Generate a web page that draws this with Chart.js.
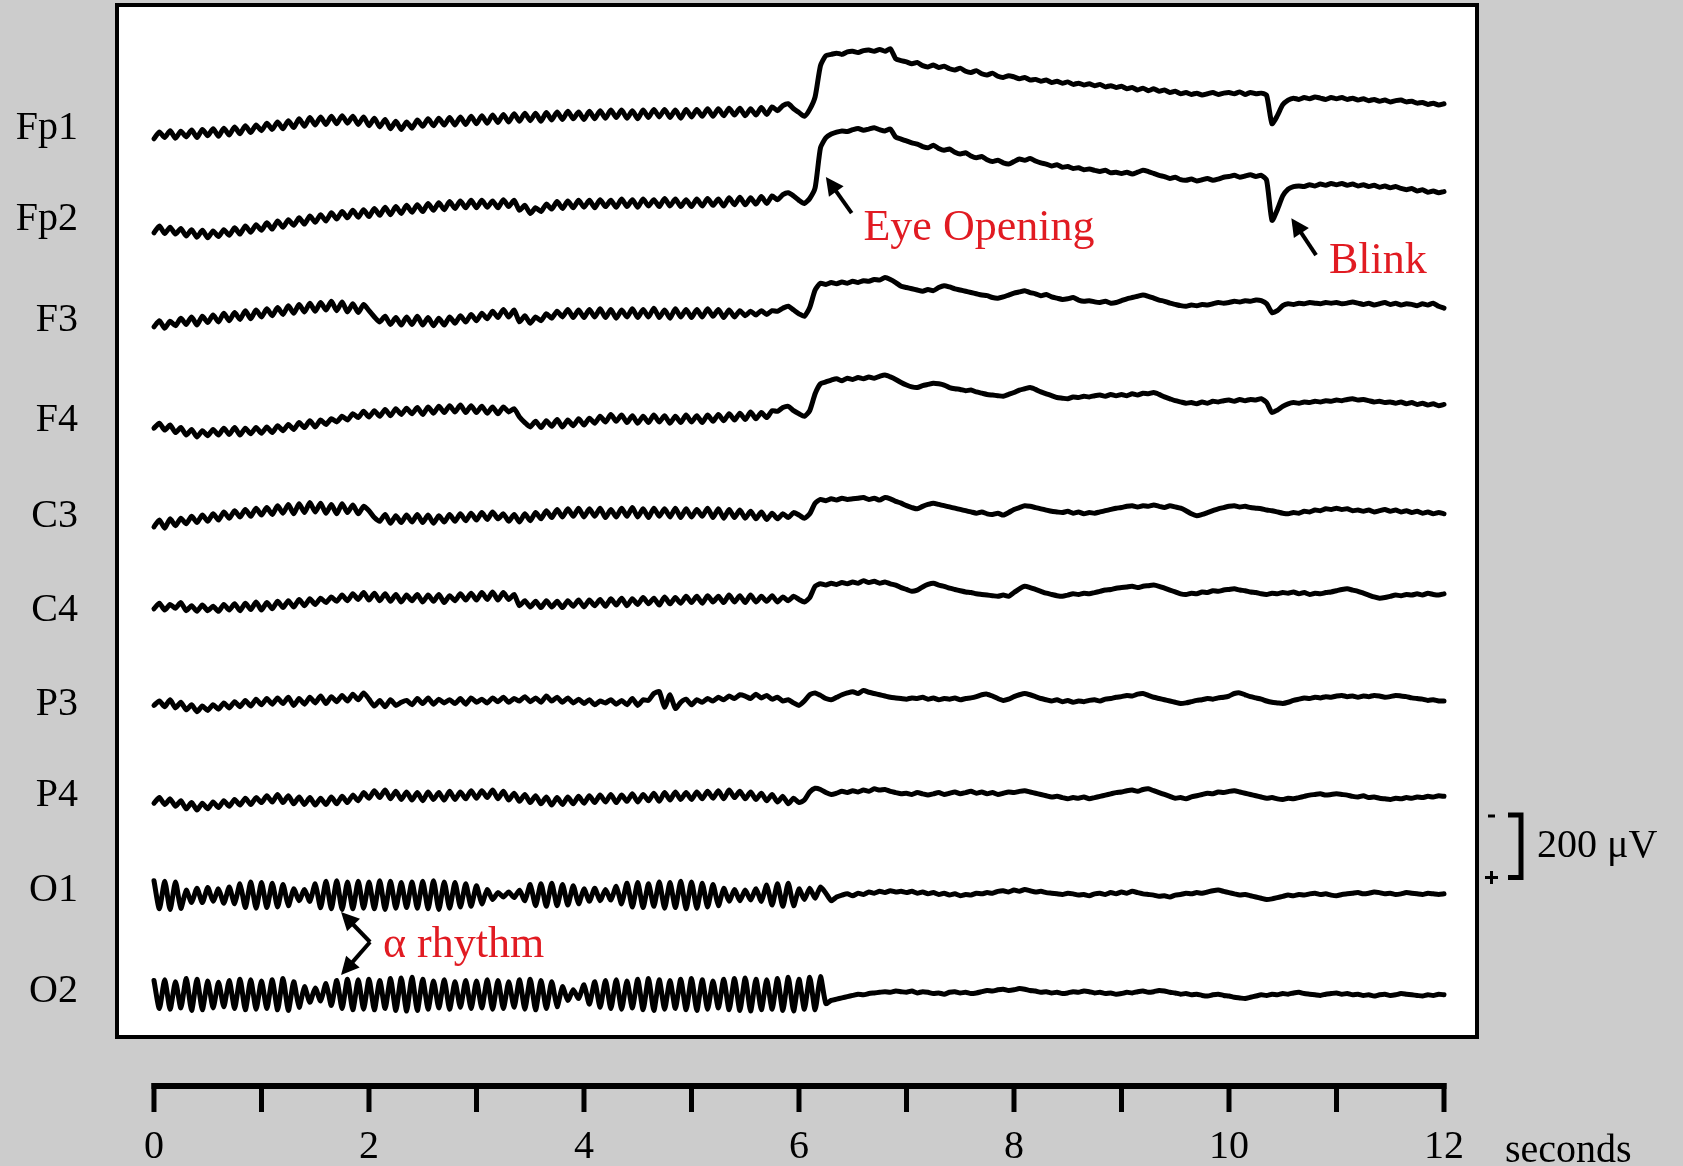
<!DOCTYPE html>
<html>
<head>
<meta charset="utf-8">
<title>EEG - eye opening</title>
<script src="https://cdn.jsdelivr.net/npm/chart.js@4.4.1/dist/chart.umd.min.js"></script>
<style>
  html, body { margin: 0; padding: 0; background: #cccccc; }
  #wrap { width: 1683px; height: 1166px; }
</style>
</head>
<body>
<div id="wrap"><canvas id="eegChart" width="1683" height="1166"></canvas></div>
<script>
// channel names and their baseline position on the (reversed) µV axis
const channels = ['Fp1', 'Fp2', 'F3', 'F4', 'C3', 'C4', 'P3', 'P4', 'O1', 'O2'];
const channelOffsets = [394, 685, 1008, 1328, 1638, 1936, 2237, 2528, 2832, 3155];
const sampleRate = 20;
const timeTicks = [0, 1, 2, 3, 4, 5, 6, 7, 8, 9, 10, 11, 12];
const scaleBarMicrovolts = 200;

// traces in µV relative to channel baseline (positive = down), one line per second
const fp1 = [
  34, 12, 30, 8, 32, 10, 28, 6, 30, 4, 24, 2, 26, 0, 22, -4, 18, -8, 14, -10,
  8, -16, 4, -20, 2, -24, -2, -30, -6, -34, -10, -36, -12, -38, -14, -40, -16, -38, -12, -36,
  -8, -32, -4, -28, 2, -22, 4, -20, 0, -26, -6, -30, -8, -32, -10, -34, -10, -36, -12, -38,
  -14, -40, -16, -42, -18, -44, -20, -46, -22, -48, -24, -48, -22, -50, -26, -52, -28, -54, -30, -52,
  -28, -54, -30, -56, -32, -58, -34, -58, -32, -56, -30, -58, -34, -60, -36, -60, -34, -58, -32, -60,
  -36, -60, -38, -62, -38, -62, -40, -64, -42, -64, -40, -62, -42, -66, -44, -68, -56, -72, -78, -62,
  -50, -38, -60, -100, -200, -232, -236, -240, -236, -244, -246, -242, -248, -250, -246, -252, -246, -254, -222, -216,
  -212, -206, -210, -200, -196, -202, -194, -198, -190, -186, -192, -182, -178, -184, -174, -170, -176, -166, -162, -168,
  -164, -158, -162, -154, -156, -150, -154, -146, -150, -144, -148, -140, -144, -138, -142, -136, -140, -132, -136, -130,
  -134, -126, -130, -122, -128, -120, -126, -118, -122, -114, -118, -110, -114, -108, -112, -106, -110, -114, -108, -112,
  -114, -110, -116, -108, -114, -110, -112, -105, -14, -40, -75, -90, -96, -92, -98, -94, -100, -96, -92, -98,
  -94, -98, -92, -96, -90, -94, -88, -92, -86, -90, -84, -88, -90, -84, -86, -80, -82, -76, -80, -74, -78
];
const fp2 = [
  44, 22, 46, 26, 48, 30, 54, 34, 58, 36, 60, 38, 56, 34, 52, 28, 48, 22, 42, 18,
  36, 12, 32, 6, 26, 2, 20, -4, 16, -10, 10, -14, 6, -20, 0, -24, -4, -28, -6, -30,
  -8, -34, -12, -38, -14, -40, -18, -44, -22, -46, -24, -50, -28, -52, -30, -56, -34, -58, -36, -60,
  -36, -60, -38, -58, -36, -62, -40, -60, -28, -44, -18, -36, -24, -48, -32, -56, -34, -58, -36, -60,
  -38, -60, -36, -62, -40, -60, -38, -64, -40, -62, -38, -64, -42, -62, -40, -66, -42, -64, -40, -62,
  -40, -64, -42, -66, -44, -64, -42, -68, -46, -70, -46, -68, -48, -72, -50, -74, -62, -78, -84, -74,
  -60, -50, -66, -100, -228, -260, -272, -278, -282, -280, -286, -290, -284, -288, -292, -286, -282, -288, -262, -256,
  -250, -244, -240, -232, -228, -236, -226, -220, -224, -214, -208, -212, -202, -196, -200, -190, -184, -188, -180, -176,
  -184, -192, -188, -194, -186, -180, -176, -170, -174, -166, -168, -162, -164, -158, -160, -156, -152, -156, -148, -150,
  -146, -150, -144, -150, -156, -152, -146, -140, -136, -130, -134, -126, -124, -128, -122, -126, -130, -124, -128, -134,
  -136, -140, -134, -138, -142, -136, -140, -124, 4, -30, -74, -96, -104, -106, -104, -110, -106, -112, -108, -114,
  -110, -114, -108, -112, -106, -110, -104, -108, -102, -106, -100, -104, -98, -94, -98, -90, -94, -86, -90, -84, -88
];
const f3 = [
  22, 2, 26, 4, 18, -6, 14, -10, 16, -12, 8, -16, 6, -22, 2, -24, -2, -30, -4, -32,
  -10, -36, -14, -40, -18, -46, -22, -50, -26, -54, -28, -56, -32, -60, -30, -58, -26, -52, -24, -50,
  -30, -10, 6, -12, 14, -8, 16, -10, 14, -12, 16, -8, 18, -6, 16, -10, 10, -14, 6, -18,
  2, -22, -4, -28, -8, -34, -10, -32, 6, -14, 10, -10, 2, -20, -6, -28, -10, -34, -8, -32,
  -8, -34, -10, -36, -8, -34, -6, -32, -10, -36, -8, -34, -10, -38, -8, -32, -6, -36, -10, -34,
  -8, -34, -10, -36, -12, -34, -8, -32, -10, -30, -14, -28, -16, -30, -18, -30, -28, -38, -44, -32,
  -20, -12, -40, -96, -118, -114, -120, -116, -122, -118, -124, -120, -126, -124, -130, -128, -136, -130, -120, -108,
  -104, -100, -96, -92, -98, -94, -104, -110, -106, -100, -96, -92, -88, -84, -80, -78, -72, -70, -74, -80,
  -86, -90, -94, -88, -84, -78, -82, -74, -70, -66, -68, -72, -64, -60, -62, -58, -56, -60, -54, -56,
  -62, -68, -72, -76, -80, -76, -70, -64, -60, -54, -50, -46, -44, -48, -46, -50, -48, -52, -56, -54,
  -56, -60, -58, -62, -60, -64, -62, -52, -24, -30, -46, -52, -50, -54, -52, -56, -54, -52, -56, -54,
  -56, -52, -54, -58, -54, -50, -54, -48, -52, -56, -50, -54, -48, -52, -50, -46, -52, -48, -54, -44, -38
];
const f4 = [
  26, 10, 32, 16, 40, 24, 48, 30, 54, 34, 50, 30, 48, 26, 46, 24, 48, 26, 44, 24,
  42, 22, 40, 18, 34, 14, 30, 8, 24, 2, 22, 0, 14, -4, 6, -12, 0, -20, -8, -28,
  -10, -30, -12, -34, -14, -36, -18, -38, -20, -40, -18, -42, -22, -44, -24, -46, -26, -48, -24, -46,
  -24, -44, -22, -42, -20, -42, -26, -36, -10, 8, 22, 4, 24, 2, 20, -2, 22, 0, 18, -4,
  16, -6, 10, -12, 6, -18, 4, -16, 8, -14, 10, -12, 8, -16, 6, -14, 10, -12, 8, -16,
  6, -14, 8, -16, 4, -18, 2, -20, 0, -22, -2, -26, -4, -24, -8, -30, -28, -40, -44, -30,
  -20, -12, -30, -84, -116, -122, -128, -132, -126, -134, -130, -136, -132, -138, -134, -140, -144, -138, -130, -120,
  -112, -106, -104, -110, -114, -118, -116, -112, -104, -100, -98, -94, -96, -90, -86, -82, -80, -78, -76, -82,
  -88, -96, -100, -104, -98, -90, -84, -78, -72, -70, -68, -74, -72, -76, -74, -78, -80, -76, -82, -78,
  -82, -78, -84, -80, -86, -84, -88, -82, -74, -68, -62, -58, -54, -56, -52, -58, -54, -60, -58, -62,
  -64, -60, -66, -62, -66, -64, -68, -56, -24, -32, -44, -52, -56, -54, -58, -56, -60, -58, -62, -60,
  -64, -62, -66, -68, -64, -66, -62, -58, -60, -56, -58, -54, -58, -52, -56, -50, -54, -48, -52, -46, -50
];
const c3 = [
  32, 10, 36, 6, 28, 4, 22, -2, 18, -6, 14, -10, 10, -16, 4, -20, 0, -24, -2, -28,
  -6, -30, -8, -36, -12, -40, -10, -42, -14, -46, -16, -44, -12, -40, -10, -42, -14, -38, -10, -34,
  -20, 2, 14, -8, 20, -4, 18, -6, 16, -8, 18, -6, 20, -4, 16, -8, 14, -10, 12, -12,
  10, -14, 8, -16, 6, -10, 14, -8, 16, -10, 12, -14, 6, -20, 2, -24, 0, -26, -2, -28,
  0, -26, -2, -28, 2, -24, 0, -28, -2, -30, 0, -26, 2, -28, -2, -26, 0, -28, 2, -26,
  0, -24, -2, -28, 2, -26, 4, -24, 2, -22, 4, -18, 6, -16, 8, -12, 6, -10, 2, -14,
  -6, 4, -10, -44, -56, -52, -58, -54, -60, -56, -58, -60, -62, -56, -60, -54, -62, -58, -50, -44,
  -36, -30, -26, -34, -40, -44, -40, -36, -32, -28, -24, -20, -16, -12, -16, -10, -8, -12, -6, -14,
  -24, -30, -36, -34, -30, -26, -22, -18, -16, -14, -18, -12, -16, -10, -14, -12, -16, -20, -24, -28,
  -30, -34, -36, -32, -36, -34, -38, -34, -30, -36, -32, -28, -20, -10, -4, -8, -14, -20, -26, -30,
  -34, -36, -32, -34, -30, -28, -26, -22, -20, -16, -12, -10, -14, -12, -18, -16, -22, -20, -26, -24,
  -28, -24, -26, -20, -22, -18, -22, -16, -20, -24, -18, -22, -16, -20, -14, -18, -12, -16, -10, -14, -10
];
const c4 = [
  -4, -22, 0, -18, -6, -24, 2, -14, 4, -16, 2, -12, 4, -18, 0, -20, 2, -22, -2, -26,
  0, -24, -4, -28, -8, -30, -10, -34, -14, -36, -18, -38, -24, -42, -28, -48, -30, -52, -34, -56,
  -32, -54, -30, -52, -28, -50, -26, -48, -30, -50, -26, -48, -28, -50, -24, -46, -30, -52, -32, -54,
  -32, -56, -34, -58, -32, -56, -34, -50, -14, -30, -10, -28, -8, -30, -10, -28, -8, -30, -12, -32,
  -10, -32, -14, -34, -12, -36, -16, -38, -14, -36, -18, -40, -20, -38, -16, -42, -20, -40, -22, -44,
  -24, -44, -22, -46, -26, -44, -24, -48, -26, -46, -24, -48, -26, -44, -28, -46, -26, -42, -30, -44,
  -34, -26, -40, -76, -84, -80, -86, -82, -88, -84, -90, -86, -94, -88, -92, -86, -90, -84, -80, -72,
  -66, -60, -64, -74, -82, -86, -80, -76, -70, -66, -62, -58, -56, -52, -50, -48, -46, -44, -48, -44,
  -56, -68, -76, -72, -66, -60, -54, -50, -46, -44, -48, -52, -50, -54, -52, -56, -60, -64, -66, -70,
  -72, -74, -76, -72, -76, -78, -80, -76, -70, -64, -58, -52, -50, -54, -52, -58, -56, -62, -60, -64,
  -66, -68, -64, -62, -58, -56, -52, -50, -54, -52, -56, -54, -58, -52, -56, -50, -54, -52, -56, -58,
  -62, -66, -68, -64, -60, -54, -48, -42, -38, -40, -44, -48, -46, -50, -48, -52, -48, -54, -50, -48, -52
];
const p3 = [
  4, -10, 8, -14, 12, -6, 18, 2, 24, 6, 20, 2, 16, -4, 12, -8, 8, -12, 6, -16,
  2, -18, 0, -20, -2, -22, 4, -18, 0, -22, -4, -26, -2, -24, -8, -28, -10, -32, -14, -36,
  -16, 6, -12, 8, -14, 4, -6, -12, 2, -18, -2, -20, 0, -16, -4, -14, -2, -18, 0, -20,
  -6, -16, -4, -20, -8, -22, -6, -18, -10, -24, -8, -20, -6, -26, -10, -22, -6, -20, -4, -16,
  -2, -14, 2, -10, -4, -14, 0, -12, 2, -18, 4, -14, -12, -34, -40, 10, -30, 14, -6, -16,
  2, -14, -6, -18, -10, -22, -14, -26, -18, -30, -26, -18, -32, -20, -28, -16, -22, -10, -14, -4,
  4, -10, -30, -36, -28, -18, -14, -22, -30, -36, -40, -34, -44, -38, -34, -30, -26, -22, -20, -18,
  -16, -20, -18, -22, -16, -20, -14, -18, -16, -20, -14, -18, -20, -24, -30, -32, -26, -18, -12, -16,
  -24, -30, -34, -30, -24, -18, -14, -10, -14, -8, -12, -6, -10, -8, -12, -14, -10, -16, -18, -22,
  -24, -28, -26, -32, -34, -28, -22, -18, -14, -10, -6, -2, -4, -8, -12, -14, -18, -16, -20, -22,
  -26, -34, -36, -30, -24, -20, -16, -10, -6, -4, -2, -6, -12, -16, -20, -18, -22, -20, -24, -22,
  -26, -28, -24, -26, -22, -26, -24, -28, -26, -22, -24, -28, -26, -24, -20, -18, -16, -12, -14, -10, -10
];
const p4 = [
  26, 8, 30, 12, 36, 18, 44, 24, 48, 26, 44, 22, 40, 18, 36, 14, 32, 10, 30, 8,
  24, 2, 22, -2, 24, 2, 28, 6, 30, 8, 32, 10, 30, 6, 28, 4, 24, 0, 18, -8,
  10, -14, 8, -16, 12, -12, 14, -10, 16, -8, 18, -10, 14, -8, 16, -12, 14, -10, 12, -14,
  10, -14, 8, -16, 12, -12, 16, -6, 20, -2, 24, 2, 28, 6, 32, 8, 30, 6, 28, 4,
  26, 2, 24, 0, 22, -2, 24, 0, 20, -4, 22, -2, 18, -6, 20, -8, 16, -10, 14, -8,
  14, -10, 12, -12, 10, -14, 12, -16, 8, -12, 12, -10, 14, -6, 18, -2, 22, 4, 28, 10,
  24, 16, -10, -22, -18, -8, -2, -6, -12, -8, -14, -10, -16, -12, -20, -16, -18, -12, -8, -4,
  -6, -2, -8, -4, 0, -4, -8, -2, -6, -10, -4, -8, -12, -6, -10, -4, -8, -2, -6, -10,
  -8, -12, -14, -10, -6, -2, 2, 6, 4, 8, 12, 8, 10, 6, 12, 8, 4, 0, -4, -8,
  -10, -14, -16, -12, -18, -20, -14, -8, -2, 4, 10, 8, 12, 6, 2, -2, -6, -4, -10, -8,
  -12, -14, -10, -6, -2, 2, 6, 10, 8, 12, 14, 10, 12, 8, 4, 0, -2, -4, 0, -2,
  -4, -2, 0, 4, 6, 2, 8, 6, 10, 12, 14, 10, 12, 8, 10, 6, 8, 4, 6, 2, 4
];
const o1 = [
  -30, 60, -28, 62, -26, 58, 0, 40, -6, 40, -8, 36, -4, 42, -10, 44, -20, 56, -26, 58,
  -24, 56, -22, 54, -18, 50, -4, 34, -2, 36, -20, 56, -28, 60, -30, 62, -26, 60, -28, 58,
  -26, 60, -30, 62, -28, 58, -24, 56, -26, 58, -28, 60, -30, 62, -26, 58, -24, 54, -20, 52,
  -14, 44, -2, 30, 8, 22, 6, 24, 0, 34, -18, 50, -20, 52, -22, 50, -18, 48, -14, 44,
  -4, 36, -6, 34, -2, 32, -12, 44, -22, 54, -24, 56, -20, 52, -26, 58, -24, 56, -28, 60,
  -26, 58, -22, 54, -18, 50, -6, 36, -2, 34, 0, 32, -4, 36, -16, 48, -20, 52, -22, 50,
  -4, 30, -6, 26, -10, 10, 34, 22, 16, 12, 18, 10, 14, 6, 10, 4, 8, 2, 6, 4,
  8, 4, 10, 6, 12, 8, 14, 10, 16, 12, 18, 14, 16, 10, 12, 8, 10, 4, 2, 6,
  0, 4, -2, 2, 6, 4, 8, 10, 12, 14, 10, 12, 16, 14, 18, 12, 10, 14, 8, 12,
  6, 10, 4, 8, 12, 14, 16, 20, 18, 22, 16, 14, 10, 12, 8, 10, 6, 2, 0, 4,
  8, 12, 16, 14, 18, 22, 26, 30, 28, 24, 20, 16, 18, 14, 16, 12, 10, 14, 12, 16,
  18, 14, 12, 10, 8, 12, 10, 6, 8, 12, 10, 14, 12, 8, 10, 12, 14, 10, 12, 14, 12
];
const o2 = [
  -34, 56, -36, 58, -30, 54, -40, 62, -38, 60, -32, 54, -28, 50, -34, 56, -38, 60, -36, 58,
  -32, 56, -36, 60, -40, 62, -30, 52, -14, 36, -10, 32, -24, 46, -34, 56, -38, 60, -36, 58,
  -38, 60, -34, 56, -40, 62, -42, 64, -44, 62, -38, 58, -32, 54, -36, 58, -30, 52, -34, 56,
  -32, 54, -36, 58, -34, 56, -30, 52, -36, 58, -38, 60, -34, 56, -30, 50, -14, 30, -4, 24,
  -20, 42, -30, 52, -34, 56, -36, 58, -32, 54, -38, 60, -40, 62, -36, 58, -34, 56, -38, 60,
  -40, 62, -36, 58, -32, 54, -38, 60, -40, 62, -42, 64, -38, 60, -36, 58, -40, 62, -44, 64,
  -38, 58, -44, 60, -46, 40, 30, 26, 22, 18, 14, 10, 12, 8, 6, 4, 2, 4, 0, 2,
  4, 0, 6, 2, 4, 8, 6, 10, 4, 2, 6, 4, 8, 6, 2, -2, 0, -4, -6, -2,
  -4, -8, -6, -2, 0, 4, 2, 6, 4, 8, 6, 2, 4, 0, 2, 6, 4, 8, 6, 10,
  8, 4, 6, 2, 0, 4, 2, -2, 0, 4, 6, 10, 8, 12, 10, 14, 16, 12, 10, 14,
  16, 20, 22, 24, 20, 16, 12, 14, 10, 12, 8, 10, 6, 4, 8, 10, 12, 14, 10, 8,
  6, 10, 8, 12, 10, 14, 12, 16, 12, 10, 14, 12, 8, 10, 12, 14, 16, 12, 14, 10, 12
];
const traces = [fp1, fp2, f3, f4, c3, c4, p3, p4, o1, o2];

// annotations, placed in data units (seconds, µV)
const labels = [
  { text: 'Eye Opening', x: 6.60, y: 752 },
  { text: 'Blink', x: 10.93, y: 858 },
  { text: 'α rhythm', x: 2.13, y: 3046 }
];
const arrows = [
  { from: [6.49, 666], to: [6.25, 550] },
  { from: [10.81, 800], to: [10.58, 682] }
];
const alphaMark = { vertex: [2.01, 2998], tips: [[1.74, 2902], [1.74, 3104]] };
const scaleBarTop = 2592;

const SERIF = "'Liberation Serif', 'Times New Roman', serif";
const RED = '#e11b22';

function arrowHead(ctx, x1, y1, x2, y2) {
    const ang = Math.atan2(y2 - y1, x2 - x1);
    const len = 18, half = 9;
    ctx.beginPath();
    ctx.moveTo(x2, y2);
    ctx.lineTo(x2 - len * Math.cos(ang) + half * Math.sin(ang), y2 - len * Math.sin(ang) - half * Math.cos(ang));
    ctx.lineTo(x2 - len * Math.cos(ang) - half * Math.sin(ang), y2 - len * Math.sin(ang) + half * Math.cos(ang));
    ctx.closePath();
    ctx.fill();
    // where the shaft should stop
    return [x2 - (len - 2) * Math.cos(ang), y2 - (len - 2) * Math.sin(ang)];
}

const eegFrame = {
    id: 'eegFrame',
    beforeDraw(chart) {
        const { ctx, chartArea: a } = chart;
        ctx.save();
        ctx.fillStyle = '#cccccc';
        ctx.fillRect(0, 0, chart.width, chart.height);
        ctx.fillStyle = '#ffffff';
        ctx.fillRect(a.left, a.top, a.right - a.left, a.bottom - a.top);
        ctx.restore();
    },
    afterDraw(chart) {
        const { ctx, chartArea: a, scales: { x, y } } = chart;
        ctx.save();
        ctx.strokeStyle = '#000';
        ctx.fillStyle = '#000';

        // box
        ctx.lineWidth = 4;
        ctx.strokeRect(a.left, a.top, a.right - a.left, a.bottom - a.top);

        // time axis under the box
        const axisY = a.bottom + 49;
        const x0 = x.getPixelForValue(timeTicks[0]);
        const x1 = x.getPixelForValue(timeTicks[timeTicks.length - 1]);
        ctx.lineWidth = 6;
        ctx.beginPath();
        ctx.moveTo(x0 - 2.5, axisY);
        ctx.lineTo(x1 + 2.5, axisY);
        ctx.stroke();
        ctx.lineWidth = 5;
        timeTicks.forEach(t => {
            const px = x.getPixelForValue(t);
            ctx.beginPath();
            ctx.moveTo(px, axisY - 3);
            ctx.lineTo(px, axisY + 26);
            ctx.stroke();
        });
        ctx.font = '40px ' + SERIF;
        ctx.textAlign = 'left';
        ctx.textBaseline = 'alphabetic';
        ctx.fillText('seconds', x1 + 61, axisY + 76);

        // 200 µV calibration bar
        const yt = y.getPixelForValue(scaleBarTop);
        const yb = y.getPixelForValue(scaleBarTop + scaleBarMicrovolts);
        const bx = a.right + 44;
        ctx.lineWidth = 5;
        ctx.lineJoin = 'miter';
        ctx.beginPath();
        ctx.moveTo(a.right + 31, yt);
        ctx.lineTo(bx, yt);
        ctx.lineTo(bx, yb);
        ctx.lineTo(a.right + 31, yb);
        ctx.stroke();
        ctx.lineWidth = 3;
        ctx.beginPath();
        ctx.moveTo(a.right + 11, yt + 1);
        ctx.lineTo(a.right + 18, yt + 1);
        ctx.moveTo(a.right + 8, yb);
        ctx.lineTo(a.right + 21, yb);
        ctx.moveTo(a.right + 14.5, yb - 6.5);
        ctx.lineTo(a.right + 14.5, yb + 6.5);
        ctx.stroke();
        ctx.font = '40px ' + SERIF;
        ctx.textBaseline = 'alphabetic';
        ctx.fillText(scaleBarMicrovolts + ' μV', a.right + 60, (yt + yb) / 2 + 11);

        // arrows
        ctx.lineWidth = 4;
        ctx.lineCap = 'butt';
        arrows.forEach(ar => {
            const fx = x.getPixelForValue(ar.from[0]), fy = y.getPixelForValue(ar.from[1]);
            const tx = x.getPixelForValue(ar.to[0]), ty = y.getPixelForValue(ar.to[1]);
            const end = arrowHead(ctx, fx, fy, tx, ty);
            ctx.beginPath();
            ctx.moveTo(fx, fy);
            ctx.lineTo(end[0], end[1]);
            ctx.stroke();
        });
        const vx = x.getPixelForValue(alphaMark.vertex[0]), vy = y.getPixelForValue(alphaMark.vertex[1]);
        alphaMark.tips.forEach(tp => {
            const tx = x.getPixelForValue(tp[0]), ty = y.getPixelForValue(tp[1]);
            const end = arrowHead(ctx, vx, vy, tx, ty);
            ctx.beginPath();
            ctx.moveTo(vx, vy);
            ctx.lineTo(end[0], end[1]);
            ctx.stroke();
        });

        // red labels
        ctx.fillStyle = RED;
        ctx.font = '44px ' + SERIF;
        labels.forEach(l => {
            ctx.fillText(l.text, x.getPixelForValue(l.x), y.getPixelForValue(l.y));
        });
        ctx.restore();
    }
};

const datasets = traces.map((vals, c) => ({
    label: channels[c],
    data: vals.map((v, i) => ({ x: i / sampleRate, y: channelOffsets[c] + v })),
    borderColor: '#000000',
    borderWidth: 5,
    pointRadius: 0,
    tension: 0.2,
    borderJoinStyle: 'round',
    borderCapStyle: 'round',
    fill: false
}));

new Chart(document.getElementById('eegChart'), {
    type: 'line',
    data: { datasets },
    options: {
        responsive: false,
        animation: false,
        devicePixelRatio: 1,
        layout: { padding: { left: 0, top: 5, right: 206, bottom: 0 } },
        plugins: {
            legend: { display: false },
            tooltip: { enabled: false }
        },
        scales: {
            x: {
                type: 'linear',
                min: -0.344,
                max: 12.307,
                grid: { display: false, drawTicks: false },
                border: { display: false },
                afterBuildTicks: s => { s.ticks = timeTicks.map(v => ({ value: v })); },
                afterFit: s => { s.height = 129; s.paddingLeft = 0; s.paddingRight = 0; },
                ticks: {
                    autoSkip: false,
                    maxRotation: 0,
                    minRotation: 0,
                    padding: 86,
                    color: '#000',
                    font: { family: SERIF, size: 40 },
                    callback: v => (v % 2 === 0 ? String(v) : '')
                }
            },
            y: {
                type: 'linear',
                reverse: true,
                min: 0,
                max: 3302,
                grid: { display: false, drawTicks: false },
                border: { display: false },
                afterBuildTicks: s => { s.ticks = channelOffsets.map(v => ({ value: v })); },
                afterFit: s => { s.width = 117; s.paddingTop = 0; s.paddingBottom = 0; },
                ticks: {
                    autoSkip: false,
                    padding: 39,
                    color: '#000',
                    font: { family: SERIF, size: 40 },
                    callback: (v, i) => channels[i]
                }
            }
        }
    },
    plugins: [eegFrame]
});
</script>
</body>
</html>
